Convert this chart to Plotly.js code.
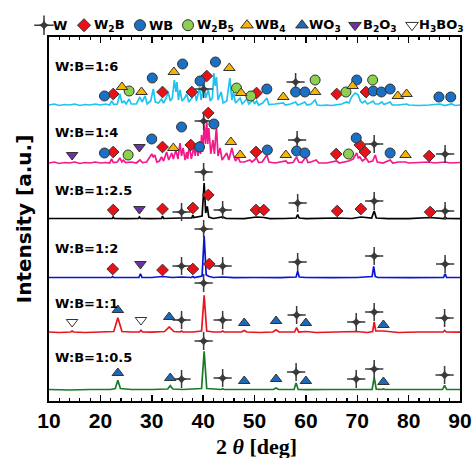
<!DOCTYPE html>
<html><head><meta charset="utf-8">
<script src="https://cdn.plot.ly/plotly-3.0.1.min.js"></script>
<style>html,body{margin:0;padding:0;background:#fff}</style>
</head><body><div id="chart" style="width:473px;height:458px"></div>
<script>
// ---- DATA (2theta [deg], intensity in arbitrary units) ----
const samples = ["W:B=1:6","W:B=1:4","W:B=1:2.5","W:B=1:2","W:B=1:1","W:B=1:0.5"];
const xTicks = [10,20,30,40,50,60,70,80,90];

const pattern_1_6 = [[10,1],[11,2],[12,0.5],[13,1.5],[14,1],[15,2],[16,0.5],[17,1.5],[18,1],[19,2],[20,1],[21,2],[21.8,1],[22.2,5],[22.6,1.5],[23.3,2],[23.8,12],[24.2,3],[24.6,5],[25.0,2],[25.6,7],[26.0,2],[27,2],[27.7,9],[28.1,4],[28.7,10],[29.1,2],[29.8,5],[30.3,17],[30.7,4],[31.3,3],[31.9,7],[32.3,3],[32.8,8],[33.2,14],[33.6,5],[34.0,8],[34.4,26],[34.7,14],[34.9,24],[35.2,6],[35.5,16],[35.9,5],[36.4,8],[36.8,12],[37.2,4],[37.8,8],[38.3,16],[38.7,5],[39.3,19],[39.6,6],[40.2,22],[40.5,8],[41.0,16],[41.4,5],[41.8,8],[42.1,33],[42.35,20],[42.6,29],[42.9,6],[43.5,14],[43.9,3],[44.6,5],[45.2,28],[45.6,6],[45.9,14],[46.3,3],[47.2,8],[47.6,2],[48.5,7],[48.9,2],[49.7,6],[50.0,2],[50.4,5],[50.8,1],[51.6,3],[52.4,8],[52.8,1.5],[54,2],[55.6,3],[56.0,1],[57,2],[58.0,4],[58.4,1],[59.0,2],[59.8,4],[60.2,1],[61.0,2],[61.8,6],[62.2,1],[63,0.5],[64,1],[65,0.5],[66,1.5],[67,2],[67.9,4],[68.4,3],[68.9,9],[69.3,11],[69.6,13],[70.2,11],[70.6,5],[71.0,3],[71.5,5],[72,2],[73.1,5],[73.5,2],[74.2,2],[74.8,4],[75.2,1.5],[76.4,4],[76.8,1],[78,1],[79.6,2],[80,1],[82,0.5],[84,1],[86.1,2],[87,0.5],[88.4,2],[89,0.5],[90,1]];

const pattern_1_4 = [[10,1],[11,2],[12,0.5],[13,1.5],[14,1],[15,2],[16,0.5],[17,1.5],[18,1],[19,2],[20,1],[21,1.5],[21.8,1],[22.2,5],[22.5,1.5],[23.3,2],[23.8,6],[24.2,2],[24.5,4],[24.9,1.5],[26,2],[27,1],[27.7,4],[28.2,1.5],[29.0,2],[29.7,8],[30.0,10],[30.3,7],[30.6,9],[31.0,2],[31.5,3],[31.9,7],[32.3,3],[32.9,12],[33.3,4],[33.9,11],[34.2,5],[34.7,14],[35.1,5],[35.5,21],[35.8,8],[36.1,16],[36.5,4],[36.8,12],[37.0,5],[37.3,19],[37.7,5],[38.2,17],[38.45,8],[38.7,21],[39.0,8],[39.3,23],[39.5,10],[39.7,29],[39.9,12],[40.2,39],[40.45,20],[40.7,44],[40.9,20],[41.1,36],[41.5,10],[41.9,24],[42.2,10],[42.5,32],[42.6,36],[42.9,8],[43.3,16],[43.7,4],[44.6,11],[45.0,4],[45.6,16],[45.9,9],[46.3,3],[46.8,7],[47.2,2],[48,2],[49.1,4],[49.5,2],[50.4,6],[50.8,1.5],[51.5,2],[52.4,9],[52.8,2],[54,1],[55,2],[56.1,3],[56.5,1],[57.5,1.5],[58.2,7],[58.6,2],[59.2,1.5],[60.0,7],[60.4,1.5],[61,2],[62,4],[62.5,1],[64,1],[65,2],[66,3],[66.5,1],[67.5,2],[68.3,3],[69.2,5],[69.9,11],[70.2,6],[70.5,7],[71.0,3],[71.7,6],[72.2,2],[73,3],[73.5,9],[73.9,2],[75,1],[76.4,4],[76.9,1],[78,2],[79.4,2],[80,1],[82,1.5],[84,2],[85,1],[87.1,2],[88,1],[90,1.5]];

const pattern_1_25 = [[10,0.5],[15,0.5],[20,0.3],[22.3,0.5],[22.5,2],[22.7,0.5],[25,0.3],[27.4,0.5],[27.6,2],[27.8,0.5],[30,0.3],[31.9,0.5],[32.1,3],[32.3,0.5],[35.8,1],[37.8,1],[38.0,4],[38.2,1.5],[39.8,3],[40.2,36],[40.5,6],[40.8,12.6],[41.1,2],[42,0.5],[43.8,2],[44.5,0.5],[48,0.3],[50.4,2],[51.8,1.5],[53,0.3],[56,0.5],[58.1,1],[58.4,4.3],[58.7,1],[60,0.3],[66,1],[69,0.5],[70.7,2],[72.8,1],[73.3,8],[73.7,1],[76,0.3],[80,0.3],[84.2,1.5],[86.8,0.5],[87.1,2],[87.4,0.5],[90,0.3]];

const pattern_1_2 = [[10,0.5],[15,0.5],[20,0.3],[22.2,0.5],[22.4,1.5],[22.6,0.5],[25,0.5],[27.5,0.5],[27.8,4.3],[28.1,0.5],[30,0.5],[32.1,1.5],[34,0.5],[35.8,1],[37.7,0.5],[38,1.5],[38.3,0.5],[39.8,2],[40.2,42],[40.6,3],[41.2,1.5],[42,0.5],[43.8,1],[46,0.3],[50,0.5],[55,0.3],[58.1,1],[58.4,6.7],[58.7,1],[60,0.5],[65,0.3],[70,0.5],[72.9,1.5],[73.2,11.7],[73.5,1.5],[74,0.5],[80,0.3],[86.8,0.5],[87.1,4.3],[87.4,0.5],[90,0.5]];

const pattern_1_1 = [[10,1],[12,0.5],[14.2,1],[14.5,2],[14.8,1],[17,0.5],[20,1],[22.6,1.5],[23.4,15.3],[24.2,1.5],[26,1],[27.6,1],[27.9,2.7],[28.2,1],[30,0.8],[32.5,1.5],[33.4,6],[34.3,1.5],[35.5,1],[35.8,2],[36.1,1],[38,1],[39.7,2],[40.2,37.7],[40.7,2],[42,1],[43.5,1],[43.8,2],[44.1,1],[47.5,1],[48,2.5],[48.5,1],[51,0.5],[53.6,1],[54.2,3.3],[54.8,1],[57.8,1],[58.2,5.3],[58.6,1],[60,1.5],[62,0.5],[65,1],[69.8,1.5],[72,0.5],[73,1.5],[73.3,11],[73.6,2],[75.1,2],[78,0.5],[82,1],[86.7,1],[87.0,2.5],[87.3,1],[90,0.8]];

const pattern_1_05 = [[10,0.5],[14,0],[18,0.5],[22,0.5],[22.9,1.5],[23.4,9.7],[23.9,1.5],[26,0.5],[30,0.5],[33.1,1],[33.6,4.3],[34.1,1],[36,0.5],[39.7,1.5],[40.2,38.7],[40.7,1.5],[43.5,0.5],[43.8,1.2],[44.1,0.5],[48,0.5],[52,0],[53.7,0.5],[54.2,2],[54.7,0.5],[57.7,0.5],[58.1,7],[58.5,0.5],[59.7,0.3],[60.0,1],[60.3,0.3],[64,0.5],[69.5,0.3],[69.8,1],[70.1,0.3],[72.9,0.5],[73.3,12.7],[73.7,0.8],[74.8,0.5],[75.1,1],[75.4,0.5],[80,0.5],[86.6,0.5],[87.0,4.7],[87.4,0.5],[90,0.5]];

// phase markers: [phase, 2theta, height above the pattern baseline]
const marks_1_6 = [["WB",20.8,10],["WB",30.1,28],["WB",36.0,42],["WB",39.4,25],["WB",42.4,44],["WB",52.4,17],["WB",58.0,14],["WB",59.8,14],["WB",69.9,26],["WB",73.1,15],["WB",74.7,14],["WB",76.4,17],["WB",85.9,9],["WB",88.2,9],
 ["W2B",22.5,12],["W2B",32.1,14],["W2B",37.8,14],["W2B",40.7,30],["W2B",50.4,13],["W2B",66.0,12],["W2B",71.7,14],
 ["WB4",24.2,19],["WB4",28.0,14],["WB4",34.3,34],["WB4",45.1,38],["WB4",47.4,13],["WB4",55.6,9],["WB4",61.8,14],["WB4",69.1,20],["WB4",77.9,10],["WB4",79.6,12],
 ["W2B5",25.6,15],["W2B5",46.5,18],["W2B5",49.3,10],["W2B5",61.8,26],["W2B5",67.8,14],["W2B5",73.0,26],
 ["W",40.1,17],["W",58.0,24]];
const marks_1_4 = [["B2O3",14.5,9],["B2O3",27.6,17],
 ["WB",20.8,11],["WB",30.0,25],["WB",35.8,37],["WB",39.3,17],["WB",42.1,40],["WB",52.5,14],["WB",58.2,13],["WB",59.8,11],["WB",69.8,26],["WB",76.4,11],
 ["W2B",22.5,12],["W2B",32.1,17],["W2B",37.6,19],["W2B",41.0,51],["W2B",50.3,12],["W2B",65.9,10],["W2B",70.5,19],["W2B",71.5,12],["W2B",84.0,8],
 ["W2B5",25.4,9],["W2B5",68.3,10],
 ["WB4",34.2,16],["WB4",45.4,22],["WB4",47.2,9],["WB4",56.1,9],["WB4",79.4,9],
 ["W",40.1,43],["W",58.3,24],["W",73.3,20],["W",87.1,10]];
const marks_1_25 = [["W2B",22.5,9],["W2B",32.1,10],["W2B",38.0,11],["W2B",41.0,24],["W2B",50.3,9],["W2B",51.8,9],["W2B",66.1,8],["W2B",70.7,10],["W2B",84.2,7],
 ["B2O3",27.6,10],
 ["W",35.8,7],["W",40.1,47],["W",43.8,9],["W",58.4,16],["W",73.3,18],["W",87.1,8]];
const marks_1_2 = [["W2B",22.4,9],["W2B",32.1,8],["W2B",38.0,9],["W2B",41.2,14],
 ["B2O3",27.8,14],
 ["W",35.8,12],["W",40.1,49],["W",43.8,12],["W",58.4,16],["W",73.3,22],["W",87.1,14]];
const marks_1_1 = [["H3BO3",14.5,11],["H3BO3",27.9,13],
 ["WO3",23.4,23],["WO3",33.4,16],["WO3",48.0,10],["WO3",54.2,12],["WO3",60.0,10],["WO3",75.1,8],
 ["W",35.8,13],["W",40.1,50],["W",43.8,13],["W",58.2,18],["W",69.8,11],["W",73.3,21],["W",87.0,15]];
const marks_1_05 = [["WO3",23.4,17],["WO3",33.6,12],["WO3",48.0,9],["WO3",54.2,11],["WO3",60.0,9],["WO3",75.1,8],
 ["W",35.8,11],["W",40.1,49],["W",43.8,12],["W",58.1,18],["W",69.8,11],["W",73.3,21],["W",87.0,15]];

const phases = ["W","W2B","WB","W2B5","WB4","WO3","B2O3","H3BO3"];
const phaseLabels = ["W","W<sub>2</sub>B","WB","W<sub>2</sub>B<sub>5</sub>","WB<sub>4</sub>","WO<sub>3</sub>","B<sub>2</sub>O<sub>3</sub>","H<sub>3</sub>BO<sub>3</sub>"];

// ---- STYLE / LAYOUT ----
const patterns = [pattern_1_6,pattern_1_4,pattern_1_25,pattern_1_2,pattern_1_1,pattern_1_05];
const marks = [marks_1_6,marks_1_4,marks_1_25,marks_1_2,marks_1_1,marks_1_05];
const lineColors = ["#1ec3f2","#f4198b","#000000","#0a14d2","#e8141e","#187a28"];
const offsets = [295,237,182,123,68,11];
const labelY = [334,269,211,153,98,44];
const phaseStyle = {
  W:{symbol:"cross-thin",color:"#3a3a3a",size:13,lc:"#3a3a3a",lw:1.5},
  W2B:{symbol:"diamond",color:"#ea1018",size:9,lc:"#333",lw:1},
  WB:{symbol:"circle",color:"#1b6fc4",size:10,lc:"#333",lw:1},
  W2B5:{symbol:"circle",color:"#8dd050",size:10,lc:"#333",lw:1},
  WB4:{symbol:"triangle-up",color:"#f7b400",size:10,lc:"#333",lw:1},
  WO3:{symbol:"triangle-up",color:"#1f68b8",size:10,lc:"#333",lw:1},
  B2O3:{symbol:"triangle-down",color:"#7030a0",size:10,lc:"#333",lw:1},
  H3BO3:{symbol:"triangle-down",color:"#ffffff",size:10,lc:"#333",lw:1}
};
const starCore = {symbol:"star-diamond",color:"#3a3a3a",size:8,line:{width:0}};
const legMarkX = [44,84,140,188,247,302,355,412];
const legTextX = [51,92,147,195,253,307,361,417];
const legY = 0.32;

const traces = [];
patterns.forEach((p,i)=>{
  traces.push({type:"scatter",mode:"lines",x:p.map(d=>d[0]),y:p.map(d=>d[1]+offsets[i]),
    line:{color:lineColors[i],width:1.7},hoverinfo:"skip",showlegend:false});
});
phases.forEach(ph=>{
  const xs=[],ys=[];
  marks.forEach((m,i)=>m.forEach(d=>{ if(d[0]===ph){xs.push(d[1]);ys.push(d[2]+offsets[i]);} }));
  const s=phaseStyle[ph];
  traces.push({type:"scatter",mode:"markers",x:xs,y:ys,cliponaxis:false,showlegend:false,name:ph,
    marker:{symbol:s.symbol,color:s.color,size:s.size,line:{color:s.lc,width:s.lw}}});
  if(ph==="W") traces.push({type:"scatter",mode:"markers",x:xs,y:ys,cliponaxis:false,showlegend:false,marker:starCore});
});
// legend symbols (drawn on an overlay axis in pixel units)
phases.forEach((ph,k)=>{
  const s=phaseStyle[ph];
  traces.push({type:"scatter",mode:"markers",x:[legMarkX[k]],y:[legY],xaxis:"x2",yaxis:"y2",cliponaxis:false,showlegend:false,
    marker:{symbol:s.symbol,color:s.color,size:s.size+1,line:{color:s.lc,width:s.lw}}});
  if(ph==="W") traces.push({type:"scatter",mode:"markers",x:[legMarkX[k]],y:[legY],xaxis:"x2",yaxis:"y2",cliponaxis:false,showlegend:false,marker:starCore});
});

const annotations = samples.map((s,i)=>({text:s,x:10.7,y:labelY[i],xref:"x",yref:"y",xanchor:"left",yanchor:"middle",showarrow:false,
  font:{family:"DejaVu Sans",size:13,color:"#000",weight:"bold"}}));
phaseLabels.forEach((t,k)=>annotations.push({text:t,x:legTextX[k],y:legY,xref:"x2",yref:"y2",xanchor:"left",yanchor:"middle",showarrow:false,
  font:{family:"DejaVu Sans",size:13,color:"#000",weight:"bold"}}));
// x-axis title
annotations.push({text:"2 <i>θ</i> [deg]",xref:"paper",yref:"paper",x:0.517,y:-0.116,xanchor:"center",yanchor:"middle",showarrow:false,
  font:{family:"Liberation Serif",size:22,color:"#000",weight:"bold"}});

const layout = {
  width:473,height:458,margin:{l:30,r:5,t:5,b:57},paper_bgcolor:"#fff",plot_bgcolor:"#fff",
  showlegend:false,
  xaxis:{domain:[19/438,430/438],range:[10,90],tickvals:xTicks,ticks:"inside",ticklen:6,tickwidth:1.5,tickcolor:"#000",
    minor:{dtick:2,ticks:"inside",ticklen:3,tickwidth:1.2,tickcolor:"#000"},
    showline:true,linewidth:2,linecolor:"#000",mirror:"ticks",showgrid:false,zeroline:false,
    tickfont:{family:"Liberation Sans",size:21,color:"#000",weight:"bold"}},
  yaxis:{range:[0,364],domain:[0,364/396],showticklabels:false,ticks:"",showline:true,linewidth:2,linecolor:"#000",mirror:true,
    showgrid:false,zeroline:false,
    title:{text:"Intensity [a.u.]",font:{family:"DejaVu Sans",size:20,color:"#000",weight:"bold"},standoff:10}},
  xaxis2:{domain:[0,1],range:[30,468],anchor:"y2",visible:false,fixedrange:true},
  yaxis2:{domain:[0.925,1],range:[0,1],anchor:"x2",visible:false,fixedrange:true},
  annotations:annotations
};
Plotly.newPlot("chart",traces,layout,{displayModeBar:false,staticPlot:true});
</script></body></html>
